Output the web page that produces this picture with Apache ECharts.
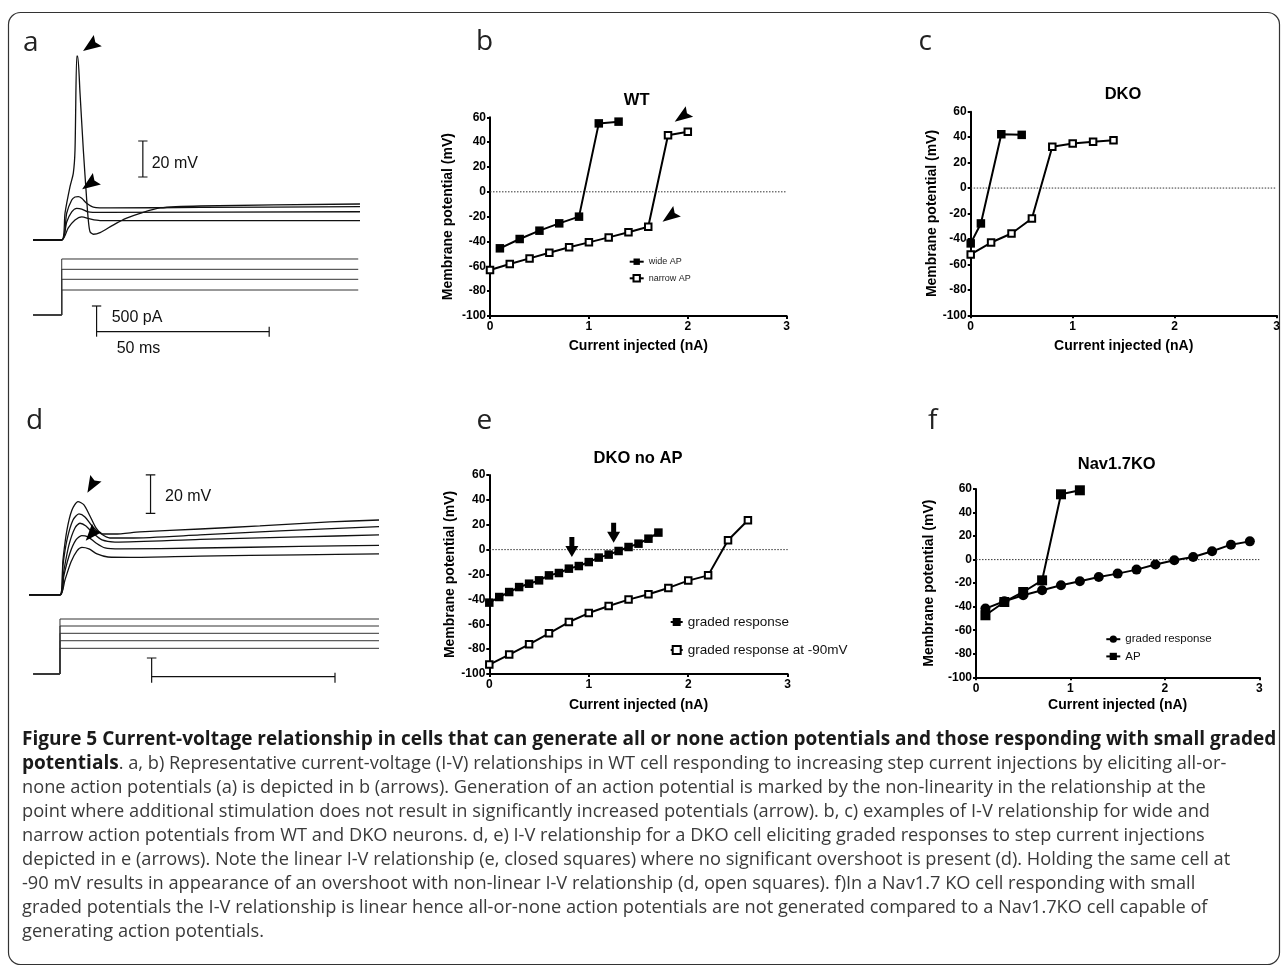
<!DOCTYPE html>
<html>
<head>
<meta charset="utf-8">
<title>Figure 5</title>
<script src="https://cdn.jsdelivr.net/npm/echarts@6/dist/echarts.min.js"></script>
<style>
  html, body { margin: 0; padding: 0; background: #fff; }
  #chart { width: 1284px; height: 969px; }
</style>
</head>
<body>
<div id="chart"></div>
<script>
// ---------- panel b: WT ----------
const wtWideX = [0.1, 0.3, 0.5, 0.7, 0.9, 1.1, 1.3];
const wtWideY = [-45.5, -38, -31.3, -25.4, -20, 55.1, 56.5];
const wtNarrowX = [0, 0.2, 0.4, 0.6, 0.8, 1.0, 1.2, 1.4, 1.6, 1.8, 2.0];
const wtNarrowY = [-63, -58.1, -53.6, -49, -44.7, -40.7, -36.7, -32.6, -28.1, 45.5, 48.4];
const wtArrows = [[1.942, 60.5, 125], [1.818, -19.9, 126]];

// ---------- panel c: DKO ----------
const dkoWideX = [0, 0.1, 0.3, 0.5];
const dkoWideY = [-43.5, -27.8, 42.3, 41.8];
const dkoNarrowX = [0, 0.2, 0.4, 0.6, 0.8, 1.0, 1.2, 1.4];
const dkoNarrowY = [-52.2, -42.8, -35.7, -23.9, 32.4, 35, 36.3, 37.6];

// ---------- panel e: DKO no AP ----------
const gradedX = [0, 0.1, 0.2, 0.3, 0.4, 0.5, 0.6, 0.7, 0.8, 0.9, 1.0, 1.1, 1.2, 1.3, 1.4, 1.5, 1.6, 1.7];
const gradedY = [-42.6, -38.1, -34.1, -30.1, -27.4, -24.7, -20.7, -18.8, -15.3, -13.2, -10, -6.4, -4, -1.1, 2.1, 4.8, 8.8, 13.7];
const graded90X = [0, 0.2, 0.4, 0.6, 0.8, 1.0, 1.2, 1.4, 1.6, 1.8, 2.0, 2.2, 2.4, 2.6];
const graded90Y = [-92.4, -84.4, -76.1, -67.3, -58.2, -51, -45.3, -40.2, -35.9, -30.8, -24.9, -20.7, 7.5, 23.6];
const noApArrows = [[0.83, 2.1], [1.25, 13.5]];

// ---------- panel f: Nav1.7KO ----------
const navGradedX = [0.1, 0.3, 0.5, 0.7, 0.9, 1.1, 1.3, 1.5, 1.7, 1.9, 2.1, 2.3, 2.5, 2.7, 2.9];
const navGradedY = [-41.6, -35.4, -30.3, -26.1, -21.8, -18.4, -14.8, -11.9, -8.5, -4.2, -0.6, 2.2, 7.1, 12.7, 15.5];
const navApX = [0.1, 0.3, 0.5, 0.7, 0.9, 1.1];
const navApY = [-47.3, -36, -27.5, -17.6, 55.5, 58.9];

// ---------- panel a: WT traces (ms, mV) and current steps (pA) ----------
const aSpikeT = [-8.3, 0, 0.96, 2.4, 3.36, 3.85, 4.35, 4.63, 5.3, 6.26, 7.24, 7.7, 8.2, 9.15, 11.1, 14.9, 18.8, 22.7, 28.5, 40.1, 86.4];
const aSpikeV = [-65, -65, -50, -35.4, -27.8, -15, 37.2, 37.2, 16.7, -15, -42.8, -53.9, -60.4, -61.8, -60.9, -56.7, -52.9, -50.2, -47.2, -46.1, -45.0];
const aHumpT = [-8.3, 0, 1.45, 2.9, 3.85, 4.8, 5.8, 7.24, 9.15, 14, 40.1, 86.4];
const aHumpV = [-65, -65, -50, -42.8, -41.1, -40.9, -41.8, -44.6, -46.7, -47.2, -46.9, -46.5];
const aMidT = [-8.3, 0, 1.45, 2.9, 4.35, 5.8, 7.7, 11.1, 86.4];
const aMidV = [-65, -65, -55, -49.4, -47.4, -47.8, -49.4, -49.7, -49.3];
const aLowT = [-8.3, 0, 1.9, 3.85, 5.8, 8.2, 11.1, 86.4];
const aLowV = [-65, -65, -58.3, -53.9, -52.1, -53.3, -54.2, -54.2];
const aStepT = [-8.3, 0, 0, 85.9];
const aStepLevels = [458, 654, 837, 1026];
const aArrows = [[8.31, 42.9, 125], [8.05, -33.9, 125]];

// ---------- panel d: DKO graded traces ----------
const d1T = [-8.45, 0, 0.82, 1.91, 3.27, 4.91, 6.54, 8.18, 9.82, 11.7, 15, 21.8, 38.2, 54.5, 73.6, 87];
const d1V = [-60, -60, -41.7, -26.1, -15.7, -11.3, -13, -18.8, -25, -28.2, -28.2, -27.1, -25.6, -24, -21.9, -20.9];
const d2T = [-8.45, 0, 0.82, 1.91, 3.55, 5.18, 6.82, 8.73, 10.9, 13.6, 19.1, 38.2, 60, 87];
const d2V = [-60, -60, -44.4, -31.3, -20.9, -17.7, -19.3, -24, -27.7, -30.3, -30.3, -28.7, -26.6, -24.4];
const d3T = [-8.45, 0, 1.09, 2.45, 4.09, 5.45, 7.09, 9, 11.45, 15, 38.2, 65.4, 87];
const d3V = [-60, -60, -47, -33.9, -25.05, -22.6, -24, -27.7, -31.3, -32.4, -31, -29.7, -28.7];
const d4T = [-8.45, 0, 1.09, 2.73, 4.36, 5.92, 7.64, 9.82, 12.3, 16.4, 38.2, 65.4, 87];
const d4V = [-60, -60, -49.6, -38.1, -31.3, -29, -29.7, -32.9, -35.5, -36, -35.5, -34.7, -34.1];
const d5T = [-8.45, 0, 1.36, 3, 4.64, 6, 7.9, 10.1, 13.1, 19.1, 38.2, 65.4, 87];
const d5V = [-60, -60, -52.2, -42.8, -37, -35.2, -36, -38.6, -40.2, -40.4, -39.7, -39.1, -38.6];
const dStepT = [-7.3, 0, 0, 87];
const dStepLevels = [700, 907, 1109, 1308, 1499];
const dArrows = [[8.64, -2.9, 150], [8.54, -28.4, 139]];

// scale bars, as segments [[x1, y1], [x2, y2]]
const aVoltBar = [[[23.5, -30], [23.5, -10]], [[22.15, -10], [24.85, -10]], [[22.15, -30], [24.85, -30]]];
const aCurrBar = [[[10.1, -397], [10.1, 165]], [[8.75, 165], [11.45, 165]], [[10.1, -306], [60.1, -306]], [[60.1, -214], [60.1, -397]]];
const dVoltBar = [[[24.7, -17.4], [24.7, 2.6]], [[23.4, 2.6], [26.0, 2.6]], [[23.4, -17.4], [26.0, -17.4]]];
const dCurrBar = [[[25, -237], [25, 436]], [[23.7, 436], [26.3, 436]], [[25, -74], [75, -74]], [[75, 35], [75, -237]]];

const captionLines = [
  'Figure 5 Current-voltage relationship in cells that can generate all or none action potentials and those responding with small graded',
  '. a, b) Representative current-voltage (I-V) relationships in WT cell responding to increasing step current injections by eliciting all-or-',
  'none action potentials (a) is depicted in b (arrows). Generation of an action potential is marked by the non-linearity in the relationship at the',
  'point where additional stimulation does not result in significantly increased potentials (arrow). b, c) examples of I-V relationship for wide and',
  'narrow action potentials from WT and DKO neurons. d, e) I-V relationship for a DKO cell eliciting graded responses to step current injections',
  'depicted in e (arrows). Note the linear I-V relationship (e, closed squares) where no significant overshoot is present (d). Holding the same cell at',
  '-90 mV results in appearance of an overshoot with non-linear I-V relationship (d, open squares). f)In a Nav1.7 KO cell responding with small',
  'graded potentials the I-V relationship is linear hence all-or-none action potentials are not generated compared to a Nav1.7KO cell capable of',
  'generating action potentials.'
];
// right edge of each regular caption line in the original (lines 3..8), and of the bold title line
const captionEnds = [1227, 1216, 1200, 1277, 1178, 1183];
const titleEnd = 1277;

const zip = (xs, ys) => xs.map((x, i) => [x, ys[i]]);
const ARIAL = '"Liberation Sans", Arial, sans-serif';
const CAPFONT = '"Open Sans", "Noto Sans", sans-serif';
const arrowHead = 'path://M6,0 L12,18 L6,15 L0,18 Z';
const downArrow = 'path://M4,0 L9,0 L9,9 L13,9 L6.5,20 L0,9 L4,9 Z';

// grids: 0 b, 1 c, 2 e, 3 f, 4 a volt, 5 a curr, 6 d volt, 7 d curr
const grids = [
  { left: 490, top: 117.3, width: 296.7, height: 198.7 },
  { left: 970.7, top: 111.7, width: 306, height: 203.6 },
  { left: 489.3, top: 475, width: 298.4, height: 199 },
  { left: 976, top: 489, width: 283.3, height: 188.3 },
  { left: 27.2, top: 33, width: 345.2, height: 234 },
  { left: 27.2, top: 249.5, width: 345.2, height: 92.8 },
  { left: 23.3, top: 441.6, width: 366.7, height: 182.1 },
  { left: 23.3, top: 615.3, width: 366.7, height: 69.7 }
].map(g => Object.assign({ containLabel: false, outerBoundsMode: 'none' }, g));

function ivX(grid, gap) {
  return {
    type: 'value', gridIndex: grid, min: 0, max: 3, interval: 1,
    axisLine: { show: true, onZero: false, lineStyle: { color: '#000', width: 2 } },
    axisTick: { show: true, length: 3, lineStyle: { color: '#000', width: 2 } },
    axisLabel: { color: '#000', fontWeight: 'bold', fontSize: 12, fontFamily: ARIAL, margin: 5 },
    splitLine: { show: false },
    name: 'Current injected (nA)', nameLocation: 'middle', nameGap: gap,
    nameTextStyle: { color: '#000', fontWeight: 'bold', fontSize: 14, fontFamily: ARIAL }
  };
}
function ivY(grid, gap) {
  return {
    type: 'value', gridIndex: grid, min: -100, max: 60, interval: 20,
    axisLine: { show: true, onZero: false, lineStyle: { color: '#000', width: 2 } },
    axisTick: { show: true, length: 3, lineStyle: { color: '#000', width: 2 } },
    axisLabel: { color: '#000', fontWeight: 'bold', fontSize: 12, fontFamily: ARIAL, margin: 4 },
    splitLine: { show: false },
    name: 'Membrane potential (mV)', nameLocation: 'middle', nameGap: gap,
    nameTextStyle: { color: '#000', fontWeight: 'bold', fontSize: 14, fontFamily: ARIAL }
  };
}
function hiddenAxis(grid, min, max) {
  return { type: 'value', gridIndex: grid, min: min, max: max, show: false, splitLine: { show: false } };
}

const xAxes = [ivX(0, 23), ivX(1, 24), ivX(2, 24), ivX(3, 21),
  hiddenAxis(4, -10, 90), hiddenAxis(5, -10, 90), hiddenAxis(6, -10, 90), hiddenAxis(7, -10, 90)];
const yAxes = [ivY(0, 35), ivY(1, 30), ivY(2, 31), ivY(3, 40),
  hiddenAxis(4, -80, 50), hiddenAxis(5, -500, 1200), hiddenAxis(6, -75, 20), hiddenAxis(7, -300, 1600)];

const series = [];

// dotted zero lines
[0, 1, 2, 3].forEach(g => series.push({
  type: 'line', xAxisIndex: g, yAxisIndex: g, data: [[0, 0], [3, 0]], symbol: 'none', silent: true,
  lineStyle: { color: '#333', width: 1, type: [1.5, 1.5] }, z: 1
}));

function ivSeries(name, g, xs, ys, kind) {
  const s = {
    name: name, type: 'line', xAxisIndex: g, yAxisIndex: g, data: zip(xs, ys),
    showAllSymbol: true, lineStyle: { color: '#000', width: 2 }, z: 3
  };
  if (kind === 'open') {
    s.symbol = 'rect'; s.symbolSize = 6.5;
    s.itemStyle = { color: '#fff', borderColor: '#000', borderWidth: 2 };
  } else if (kind === 'circle') {
    s.symbol = 'circle'; s.symbolSize = 10;
    s.itemStyle = { color: '#000' };
  } else {
    s.symbol = 'rect'; s.symbolSize = kind === 'big' ? 10 : 8.5;
    s.itemStyle = { color: '#000' };
  }
  return s;
}
series.push(ivSeries('b:wide AP', 0, wtWideX, wtWideY, 'filled'));
series.push(ivSeries('b:narrow AP', 0, wtNarrowX, wtNarrowY, 'open'));
series.push(ivSeries('c:wide', 1, dkoWideX, dkoWideY, 'filled'));
series.push(ivSeries('c:narrow', 1, dkoNarrowX, dkoNarrowY, 'open'));
series.push(ivSeries('e:graded response', 2, gradedX, gradedY, 'filled'));
series.push(ivSeries('e:graded response at -90mV', 2, graded90X, graded90Y, 'open'));
series.push(ivSeries('f:graded response', 3, navGradedX, navGradedY, 'circle'));
series.push(ivSeries('f:AP', 3, navApX, navApY, 'big'));

// arrows
function arrowSeries(g, pts, symbol, size) {
  return {
    type: 'scatter', xAxisIndex: g, yAxisIndex: g, clip: false, silent: true, z: 5,
    symbol: symbol, symbolSize: size,
    data: pts.map(p => ({ value: [p[0], p[1]], symbolRotate: p[2] || 0 })),
    itemStyle: { color: '#000', opacity: 1 }
  };
}
series.push(arrowSeries(0, wtArrows, arrowHead, [13, 18]));
series.push(arrowSeries(2, noApArrows, downArrow, [13, 20]));
series.push(arrowSeries(4, aArrows, arrowHead, [14, 18]));
series.push(arrowSeries(6, dArrows, arrowHead, [13, 17]));

// electrophysiology traces
function trace(g, ts, vs, w, color) {
  return {
    type: 'line', xAxisIndex: g, yAxisIndex: g, data: zip(ts, vs), symbol: 'none', smooth: 0.25,
    silent: true, clip: false, lineStyle: { color: color || '#111', width: w }, z: 2
  };
}
series.push(trace(4, aLowT, aLowV, 1.3));
series.push(trace(4, aMidT, aMidV, 1.3));
series.push(trace(4, aHumpT, aHumpV, 1.3));
series.push(trace(4, aSpikeT, aSpikeV, 1.3));
aStepLevels.forEach(l => series.push(Object.assign(trace(5, aStepT, [0, 0, l, l], 1, '#333'), { smooth: false })));
[[d1T, d1V], [d2T, d2V], [d3T, d3V], [d4T, d4V], [d5T, d5V]].forEach(p => series.push(trace(6, p[0], p[1], 1.3)));
dStepLevels.forEach(l => series.push(Object.assign(trace(7, dStepT, [0, 0, l, l], 1, '#333'), { smooth: false })));

// scale bars
function bars(g, segs) {
  segs.forEach(seg => series.push({
    type: 'line', xAxisIndex: g, yAxisIndex: g, data: seg, symbol: 'none', silent: true, clip: false,
    lineStyle: { color: '#111', width: 1.2 }, z: 2
  }));
}
bars(4, aVoltBar); bars(5, aCurrBar); bars(6, dVoltBar); bars(7, dCurrBar);

function legend(names, left, top, gap, w, h, size, color) {
  return {
    data: names, orient: 'vertical', left: left, top: top, itemGap: gap, itemWidth: w, itemHeight: h,
    padding: 0, selectedMode: false,
    formatter: n => n.slice(2),
    textStyle: { fontFamily: ARIAL, fontSize: size, color: color, padding: [0, 0, 0, 0] }
  };
}
const legends = [
  legend(['b:wide AP', 'b:narrow AP'], 628.7, 257.2, 7.6, 14, 8, 9, '#222'),
  legend(['e:graded response', 'e:graded response at -90mV'], 669.7, 615, 14, 12, 10, 13.5, '#111'),
  legend(['f:graded response', 'f:AP'], 1105.3, 633.2, 5.2, 14, 9, 11.5, '#111')
];

// caption font size: median fit of the regular lines to their widths in the original
const mctx = document.createElement('canvas').getContext('2d');
function measure(text, weight) {
  mctx.font = weight + ' 100px ' + CAPFONT;
  return mctx.measureText(text).width;
}
const fits = captionEnds.map((end, i) => 100 * (end - 22) / measure(captionLines[i + 2], 'normal')).sort((a, b) => a - b);
const regSize = (fits[2] + fits[3]) / 2;
const boldSize = 100 * (titleEnd - 22) / measure(captionLines[0], 'bold');

function txt(text, x, y, font, fill, align) {
  return { type: 'text', x: x, y: y, silent: true,
    style: { text: text, font: font, fill: fill || '#111', textAlign: align || 'left', textVerticalAlign: 'middle' } };
}
const graphics = [
  { type: 'rect', silent: true, shape: { x: 8.5, y: 12.5, width: 1271, height: 952, r: 12 },
    style: { fill: 'none', stroke: '#333', lineWidth: 1.2 } },
  txt('a', 23, 43, '28px ' + CAPFONT, '#222'),
  txt('b', 476, 42.5, '28px ' + CAPFONT, '#222'),
  txt('c', 918.5, 42.5, '28px ' + CAPFONT, '#222'),
  txt('d', 26, 421.5, '28px ' + CAPFONT, '#222'),
  txt('e', 476.5, 420.8, '28px ' + CAPFONT, '#222'),
  txt('f', 928, 420.8, '28px ' + CAPFONT, '#222'),
  txt('WT', 636.7, 100, 'bold 16.5px ' + ARIAL, '#000', 'center'),
  txt('DKO', 1123, 94, 'bold 16.5px ' + ARIAL, '#000', 'center'),
  txt('DKO no AP', 638, 458, 'bold 16.5px ' + ARIAL, '#000', 'center'),
  txt('Nav1.7KO', 1116.7, 464, 'bold 16.5px ' + ARIAL, '#000', 'center'),
  txt('20 mV', 151.7, 163.3, '16px ' + ARIAL),
  txt('500 pA', 111.7, 317.5, '16px ' + ARIAL),
  txt('50 ms', 116.7, 349, '16px ' + ARIAL),
  txt('20 mV', 165, 496.7, '16px ' + ARIAL)
];
captionLines.forEach((line, i) => {
  const y = 740 + 24 * i;
  if (i === 0) {
    graphics.push(txt(line, 22, y, 'bold ' + boldSize.toFixed(2) + 'px ' + CAPFONT, '#1a1a1a'));
  } else if (i === 1) {
    graphics.push({ type: 'text', x: 22, y: y, silent: true, style: {
      text: '{b|potentials}{r|' + line + '}', textVerticalAlign: 'middle',
      rich: {
        b: { fontFamily: CAPFONT, fontWeight: 'bold', fontSize: boldSize, fill: '#1a1a1a', color: '#1a1a1a' },
        r: { fontFamily: CAPFONT, fontSize: regSize, fill: '#3a3a3a', color: '#3a3a3a' }
      } } });
  } else {
    graphics.push(txt(line, 22, y, regSize.toFixed(2) + 'px ' + CAPFONT, '#3a3a3a'));
  }
});

const chart = echarts.init(document.getElementById('chart'), null, { renderer: 'canvas' });
chart.setOption({
  animation: false,
  backgroundColor: '#fff',
  textStyle: { fontFamily: ARIAL },
  grid: grids,
  xAxis: xAxes,
  yAxis: yAxes,
  legend: legends,
  series: series,
  graphic: { elements: graphics }
});
</script>
</body>
</html>
